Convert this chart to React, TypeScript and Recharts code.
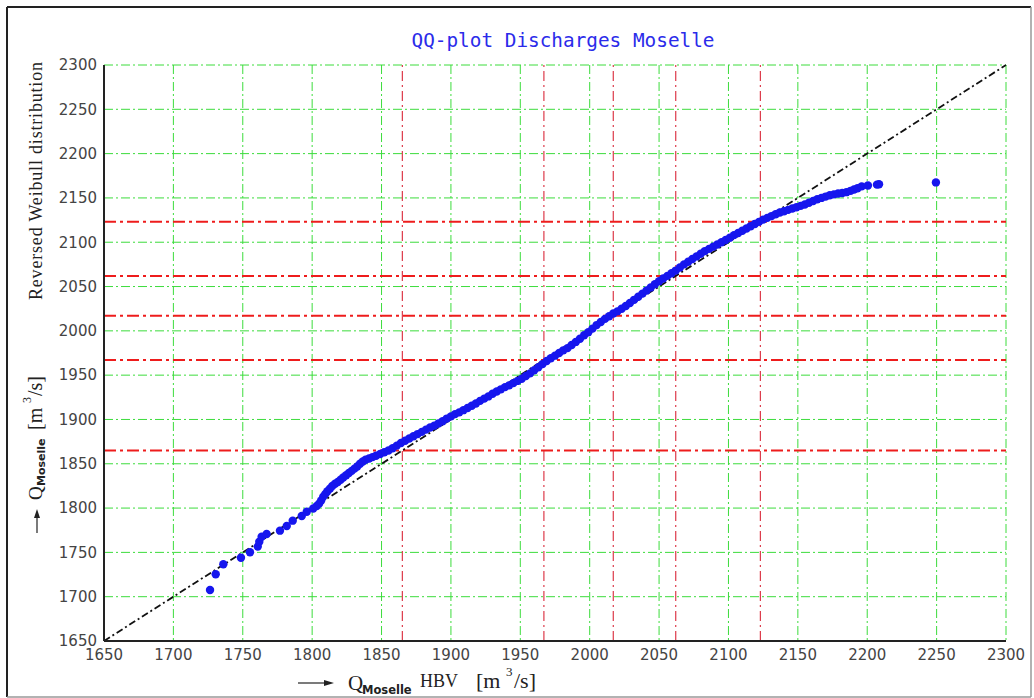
import {
  CartesianGrid,
  ReferenceLine,
  Scatter,
  ScatterChart,
  XAxis,
  YAxis,
} from "recharts";

// sorted HBV discharges (x) against reversed Weibull quantiles (y), m3/s
const hbvQ = [
  1726.4, 1730.5, 1736.0, 1748.7, 1755.2, 1760.8, 1761.9, 1763.6, 1767.2, 1776.8,
  1781.7, 1786.0, 1792.5, 1796.1, 1800.8, 1803.3, 1805, 1806.5, 1808, 1809.5,
  1811, 1812.9, 1814.5, 1816.5, 1818.5, 1820.5, 1822.4, 1824.5, 1826.5, 1828.5,
  1830.5, 1832.5, 1834.5, 1836.5, 1838.5, 1841, 1843.5, 1846, 1849, 1852,
  1855, 1858, 1861, 1864, 1867, 1870, 1873, 1876, 1879, 1882,
  1885, 1888, 1891, 1894, 1897, 1900, 1903, 1906, 1909, 1912,
  1915, 1918, 1921, 1924, 1927, 1930, 1933, 1936, 1939, 1942,
  1945, 1948, 1951, 1954, 1957, 1960, 1963, 1966, 1969, 1972,
  1975, 1978, 1981, 1984, 1987, 1990, 1993, 1996, 1999, 2002,
  2005, 2008, 2011, 2014, 2017, 2020, 2023, 2026, 2029, 2032,
  2035, 2038, 2041, 2044, 2047, 2050, 2053, 2056, 2059, 2062,
  2065, 2068, 2071, 2074, 2077, 2080, 2083, 2086, 2089, 2092,
  2095, 2098, 2101, 2104, 2107, 2110, 2113, 2116, 2119, 2122,
  2125, 2128, 2131, 2134, 2137, 2140, 2143, 2146, 2149, 2152,
  2155, 2158, 2161, 2164, 2167, 2170, 2173, 2176, 2179, 2182,
  2185, 2188, 2190.5, 2193, 2196, 2200.5, 2207, 2208.5, 2249.5,
];
const weibullQ = [
  1707.6, 1725.3, 1736.6, 1744.0, 1750.1, 1756.5, 1762.1, 1767.7, 1770.8, 1774.5,
  1779.8, 1785.8, 1791.1, 1795.9, 1799.5, 1802.4, 1805, 1808.5, 1812.9, 1816,
  1819, 1822, 1825, 1827.5, 1829.5, 1832, 1834.5, 1837, 1839.5, 1842,
  1844.5, 1847, 1850, 1852.5, 1854.5, 1856, 1857.5, 1859, 1861, 1863,
  1865, 1867.5, 1870.5, 1873.5, 1876, 1878.5, 1881, 1883.5, 1886, 1888.5,
  1891, 1893, 1895.5, 1898, 1901, 1903.5, 1906, 1908, 1910.5, 1913,
  1915.5, 1918, 1921, 1923.5, 1926, 1929, 1931.5, 1934, 1936.5, 1938.5,
  1941, 1943.5, 1946, 1949, 1952, 1955.5, 1959, 1962.5, 1966, 1969,
  1972, 1975, 1978, 1980.5, 1984, 1987.5, 1991, 1995, 1998.5, 2002.5,
  2006.5, 2010, 2013.5, 2016.5, 2019.5, 2022, 2025, 2028, 2031.5, 2035,
  2038.5, 2042, 2045.5, 2049, 2052.5, 2056, 2059, 2062, 2065, 2068,
  2071.5, 2075, 2078, 2081, 2084, 2087, 2090, 2092.5, 2095, 2097.5,
  2100, 2102.5, 2105, 2108, 2110.5, 2113, 2115.5, 2118, 2120.5, 2123,
  2125.5, 2127.5, 2129.5, 2131.5, 2133.5, 2135, 2136.5, 2138, 2139.5, 2141,
  2142.5, 2144.5, 2146.5, 2148.5, 2150, 2151.5, 2153, 2154, 2155, 2155.5,
  2156.5, 2158, 2159.5, 2161, 2163, 2164, 2165, 2165.5, 2167.5,
];

// return-level thresholds, same on both axes
const thresholds = [1865, 1967, 2017, 2062, 2123];

const axisTicks = [
  1650, 1700, 1750, 1800, 1850, 1900, 1950, 2000, 2050, 2100, 2150, 2200, 2250, 2300,
];

const points = hbvQ.map((x, i) => ({ x, y: weibullQ[i] }));

const tickStyle = { fill: "#444", fontSize: 15, fontFamily: "DejaVu Sans" };
const serif = "Liberation Serif";

const Dot = (p: any) => <circle cx={p.cx} cy={p.cy} r={4.2} fill="#1616ee" />;

const Labels = () => (
  <svg
    width={1034}
    height={698}
    style={{ position: "absolute", left: 0, top: 0, pointerEvents: "none" }}
  >
    {/* frame */}
    <line x1={7} y1={7} x2={1031} y2={7} stroke="#222" strokeWidth={2} />
    <line x1={7} y1={7} x2={7} y2={697} stroke="#222" strokeWidth={2} />
    <line x1={7} y1={697} x2={1031} y2={697} stroke="#999" strokeWidth={1.5} />
    <line x1={1031} y1={7} x2={1031} y2={697} stroke="#999" strokeWidth={1.5} />

    <text
      x={563}
      y={47}
      textAnchor="middle"
      fill="#2b2bea"
      fontFamily="DejaVu Sans Mono"
      fontSize={19}
      textLength={303}
      lengthAdjust="spacingAndGlyphs"
    >
      QQ-plot Discharges Moselle
    </text>

    {/* x axis title */}
    <g fill="#222">
      <line x1={298} y1={683} x2={326} y2={683} stroke="#222" strokeWidth={1.2} />
      <polygon points="334,683 324,680 324,686" />
      <text x={348} y={690} fontFamily={serif} fontSize={21}>Q</text>
      <text x={362} y={694} fontFamily="DejaVu Sans" fontWeight="bold" fontSize={11.5}>
        Moselle
      </text>
      <text x={420} y={687} fontFamily={serif} fontSize={18}>HBV</text>
      <text x={476} y={688} fontFamily={serif} fontSize={22}>[m</text>
      <text x={506} y={676} fontFamily={serif} fontSize={13}>3</text>
      <text x={514} y={688} fontFamily={serif} fontSize={22}>/s]</text>
    </g>

    {/* y axis title, reads bottom to top */}
    <g transform="translate(42,533) rotate(-90)" fill="#222">
      <line x1={0} y1={-5} x2={16} y2={-5} stroke="#222" strokeWidth={1.2} />
      <polygon points="24,-5 15,-8 15,-2" />
      <text x={33} y={0} fontFamily={serif} fontSize={19}>Q</text>
      <text x={47} y={3} fontFamily="DejaVu Sans" fontWeight="bold" fontSize={11}>
        Moselle
      </text>
      <text x={103} y={0} fontFamily={serif} fontSize={20}>[m</text>
      <text x={130} y={-11} fontFamily={serif} fontSize={12}>3</text>
      <text x={137} y={0} fontFamily={serif} fontSize={20}>/s]</text>
      <text
        x={233}
        y={0}
        fontFamily={serif}
        fontSize={18}
        textLength={238}
        lengthAdjust="spacing"
      >
        Reversed Weibull distribution
      </text>
    </g>
  </svg>
);

export default function App() {
  return (
    <div
      style={{
        position: "absolute",
        left: 0,
        top: 0,
        width: 1034,
        height: 698,
        background: "#fff",
      }}
    >
      <ScatterChart
        width={1034}
        height={698}
        margin={{ top: 65, right: 28, bottom: 0, left: 0 }}
      >
        <CartesianGrid stroke="#3cdc3c" strokeDasharray="9 3 2 3" strokeWidth={1} />
        <XAxis
          type="number"
          dataKey="x"
          domain={[1650, 2300]}
          ticks={axisTicks}
          interval={0}
          height={57}
          axisLine={{ stroke: "#222", strokeWidth: 2 }}
          tickLine={false}
          tickSize={0}
          tickMargin={8}
          tick={tickStyle}
        />
        <YAxis
          type="number"
          dataKey="y"
          domain={[1650, 2300]}
          ticks={axisTicks}
          interval={0}
          width={104}
          axisLine={{ stroke: "#222", strokeWidth: 2 }}
          tickLine={false}
          tickSize={0}
          tickMargin={7}
          tick={tickStyle}
        />
        {thresholds.map((v) => (
          <ReferenceLine
            key={"v" + v}
            x={v}
            stroke="#dd3a4a"
            strokeWidth={1.2}
            strokeDasharray="10 4 2 4"
          />
        ))}
        {thresholds.map((v) => (
          <ReferenceLine
            key={"h" + v}
            y={v}
            stroke="#ee1c1c"
            strokeWidth={2}
            strokeDasharray="12 4 3 4"
          />
        ))}
        <ReferenceLine
          segment={[
            { x: 1650, y: 1650 },
            { x: 2300, y: 2300 },
          ]}
          stroke="#111"
          strokeWidth={1.8}
          strokeDasharray="7 3 2 3"
        />
        <Scatter data={points} shape={Dot} isAnimationActive={false} />
      </ScatterChart>
      <Labels />
    </div>
  );
}
